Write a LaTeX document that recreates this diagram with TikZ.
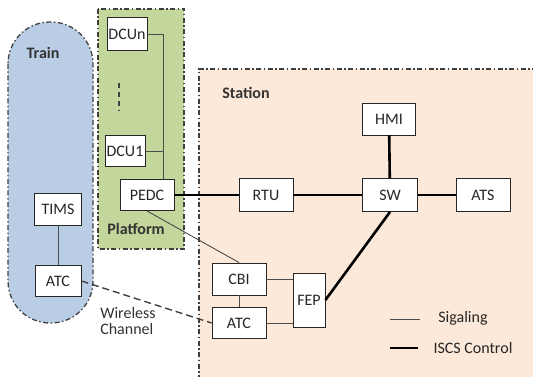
\documentclass[tikz,border=0pt]{standalone}
\usepackage{fontspec}
\setmainfont{Carlito}
\usetikzlibrary{calc}

\definecolor{trainblue}{HTML}{B9CDE5}
\definecolor{platgreen}{HTML}{C3D69B}
\definecolor{stationpink}{HTML}{FDE9D9}
\definecolor{zoneline}{HTML}{404040}

\tikzset{
  unit/.style={draw=black!85, fill=white, line width=0.9pt, minimum width=54pt,
    minimum height=32pt, inner sep=1pt, text=black!85},
  zone/.style={draw=zoneline, line width=1.3pt,
    dash pattern=on 5pt off 2.5pt on 1.5pt off 2.5pt},
  zonelabel/.style={font=\fontsize{16}{19}\selectfont\bfseries, text=black!80},
  sigline/.style={draw=black!70, line width=0.9pt},
  iscsline/.style={draw=black, line width=2.6pt},
}

\begin{document}
\begin{tikzpicture}[x=1pt,y=-1pt,font=\fontsize{16}{19}\selectfont]
  \useasboundingbox (0,0) rectangle (533,377);
  \clip (0,0) rectangle (533,377);

  % zones
  \fill[stationpink] (199,69) rectangle (560,400);
  \draw[zone] (560,69) -- (199,69) -- (199,400);
  \draw[zone,fill=trainblue,rounded corners=42pt] (8,22) rectangle (93,323);
  \draw[zone,fill=platgreen] (98,9) rectangle (184,249);

  \node[zonelabel] (train) at (43,53) {Train};
  \node[zonelabel] (platform) at (136,229) {Platform};
  \node[zonelabel] (station) at (246,93) {Station};

  % train side
  \node[unit,minimum width=47pt] (tims) at (58,209) {TIMS};
  \node[unit,minimum width=46pt,minimum height=31pt] (atcT) at (58,281) {ATC};

  % platform side
  \node[unit,minimum width=40pt,minimum height=33pt] (dcun) at (127,34) {DCUn};
  \node[unit,minimum width=40pt,minimum height=31pt] (dcu1) at (125,151) {DCU1};
  \node[unit,minimum height=31pt] (pedc) at (147,195) {PEDC};
  \coordinate (bus) at ([xshift=16pt]pedc.north);
  \draw[line width=1.5pt,black!75,dash pattern=on 5pt off 4pt] (119,83) -- (119,111);

  % station side
  \node[unit,minimum height=33pt] (rtu) at (266,195) {RTU};
  \node[unit,minimum width=55pt,minimum height=33pt] (sw) at (390,195) {SW};
  \node[unit,minimum height=33pt] (ats) at (483,195) {ATS};
  \node[unit,minimum width=53pt] (hmi) at (389,119) {HMI};
  \node[unit] (cbi) at (239,279) {CBI};
  \node[unit,minimum height=31pt] (atcS) at (239,323) {ATC};
  \node[unit,minimum width=32pt,minimum height=54pt] (fep) at (309,300) {FEP};

  % signaling links
  \draw[sigline] (tims) -- (atcT);
  \draw[sigline] (dcun.east) -| (bus);
  \draw[sigline] (dcu1.east) -- (dcu1.east -| bus);
  \draw[sigline] (pedc.south) -- (cbi.north);
  \draw[sigline] (cbi) -- (atcS);
  \draw[sigline] (cbi.east) -- (cbi.east -| fep.west);
  \draw[sigline] (atcS.east) -- (atcS.east -| fep.west);
  \draw[line width=1.4pt,black!75,dash pattern=on 7pt off 4pt] (atcT.east) -- (atcS.west);
  \node[text=black!80,align=left] (wireless) at (128,321) {Wireless\\[-3pt]Channel};

  % ISCS control links
  \draw[iscsline] (pedc) -- (rtu);
  \draw[iscsline] (rtu) -- (sw);
  \draw[iscsline] (sw) -- (ats);
  \draw[iscsline] (hmi) -- (sw);
  \draw[iscsline] (fep.east) -- (sw.south);

  % legend
  \coordinate (sigA) at (390,319);
  \coordinate (sigB) at (420,319);
  \coordinate (iscsA) at (390,348);
  \coordinate (iscsB) at (418,348);
  \draw[sigline] (sigA) -- (sigB);
  \draw[iscsline] (iscsA) -- (iscsB);
  \node[text=black!85] (sigtext) at (463,318) {Sigaling};
  \node[text=black!85] (iscstext) at (473,348) {ISCS Control};
\end{tikzpicture}
\end{document}
